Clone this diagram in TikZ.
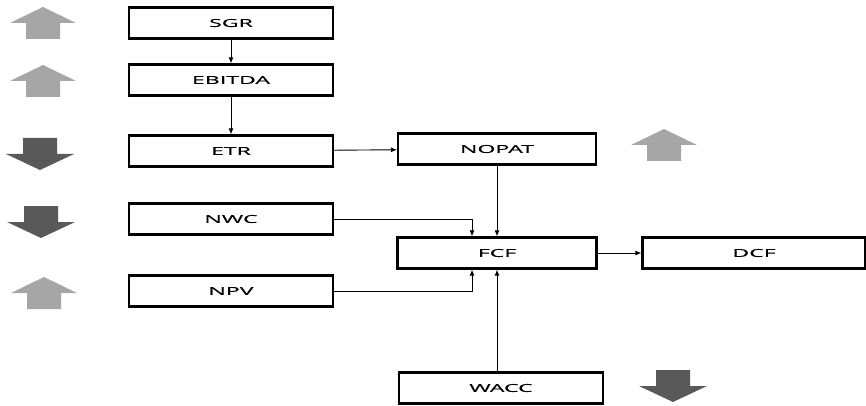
\documentclass[tikz,border=0pt]{standalone}
\usepackage{fontspec}
\setmainfont{Open Sans}[FakeStretch=2.1,FakeBold=0.3]
\usetikzlibrary{arrows.meta,positioning}

\definecolor{upgray}{HTML}{A6A6A6}
\definecolor{downgray}{HTML}{595959}

\tikzset{
    kpibox/.style={draw, line width=2.2pt, minimum width=204pt, minimum height=31pt,
        inner sep=0pt, font=\fontsize{11}{13}\selectfont},
    flow/.style={-{Latex[length=6pt,width=5pt]}, line width=0.9pt},
}

\begin{document}
\begin{tikzpicture}[x=1pt,y=-1pt]
    \useasboundingbox (0,0) rectangle (866,406);

    % left column
    \node[kpibox] (sgr)    at (231,23)  {SGR};
    \node[kpibox] (ebitda) at (231,80)  {EBITDA};
    \node[kpibox] (etr)    at (231,151) {ETR};
    \node[kpibox] (nwc)    at (231,219) {NWC};
    \node[kpibox] (npv)    at (231,291) {NPV};

    % right part
    \node[kpibox, minimum width=198pt] (nopat) at (497,149) {NOPAT};
    \node[kpibox, minimum width=199pt] (fcf)   at (497,253) {FCF};
    \node[kpibox, minimum width=223pt] (dcf)   at (754,253) {DCF};
    \node[kpibox, minimum width=204pt] (wacc)  at (501,388) {WACC};

    \draw[flow] (sgr) -- (ebitda);
    \draw[flow] (ebitda) -- (etr);
    \draw[flow] (etr) -- (nopat);
    \draw[flow] (nopat.south) -- (fcf.north);
    \draw[flow] (nwc.east) -| ([xshift=-25pt]fcf.north);
    \draw[flow] (npv.east) -| ([xshift=-25pt]fcf.south);
    \draw[flow] (wacc.north -| fcf.south) -- (fcf.south);
    \draw[flow] (fcf) -- (dcf);

    % up / down markers
    \foreach \cx/\ty in {43/7, 43/65, 44/277, 664/129} {
        \fill[upgray] (\cx-33,\ty+16) -- (\cx,\ty) -- (\cx+33,\ty+16) -- (\cx+17,\ty+16)
            -- (\cx+17,\ty+32) -- (\cx-17,\ty+32) -- (\cx-17,\ty+16) -- cycle;
    }
    \foreach \cx/\ty in {40/138, 41/206, 673/370} {
        \fill[downgray] (\cx-17,\ty) -- (\cx+17,\ty) -- (\cx+17,\ty+16) -- (\cx+34,\ty+16)
            -- (\cx,\ty+32) -- (\cx-34,\ty+16) -- (\cx-17,\ty+16) -- cycle;
    }
\end{tikzpicture}
\end{document}
